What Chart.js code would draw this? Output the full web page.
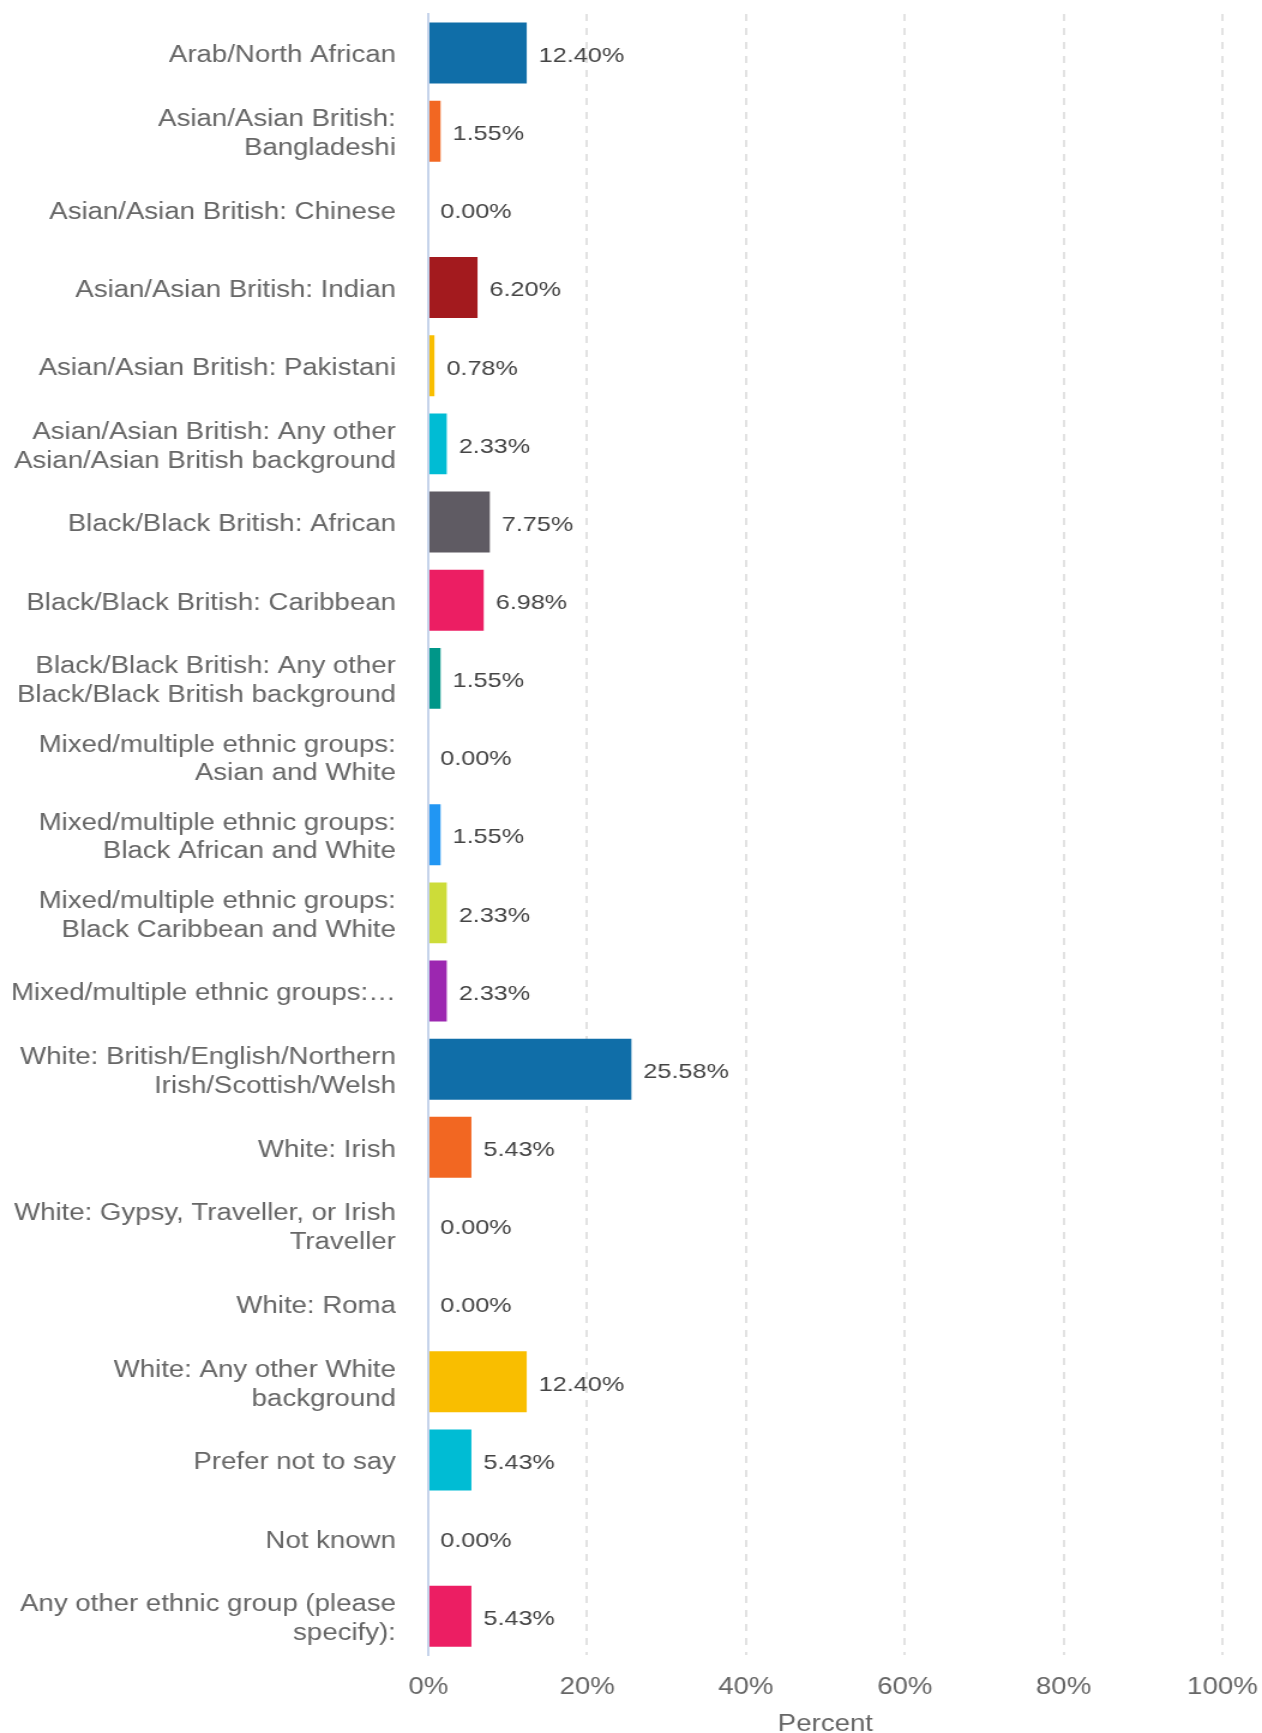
<!DOCTYPE html>
<html>
<head>
<meta charset="utf-8">
<script src="https://cdn.jsdelivr.net/npm/chart.js@4.4.1/dist/chart.umd.min.js"></script>
<style>
  html, body { margin: 0; padding: 0; background: #fff; }
  /* the picture is drawn a bit narrower and stretched out to full width */
  #chart { display: block; width: 1262px; height: 1733px; }
</style>
</head>
<body>
<canvas id="chart" width="1052" height="1733" style="width:1262px;height:1733px"></canvas>
<script>
'use strict';

const categories = [
  'Arab/North African',
  ['Asian/Asian British:', 'Bangladeshi'],
  'Asian/Asian British: Chinese',
  'Asian/Asian British: Indian',
  'Asian/Asian British: Pakistani',
  ['Asian/Asian British: Any other', 'Asian/Asian British background'],
  'Black/Black British: African',
  'Black/Black British: Caribbean',
  ['Black/Black British: Any other', 'Black/Black British background'],
  ['Mixed/multiple ethnic groups:', 'Asian and White'],
  ['Mixed/multiple ethnic groups:', 'Black African and White'],
  ['Mixed/multiple ethnic groups:', 'Black Caribbean and White'],
  'Mixed/multiple ethnic groups:\u2026',
  ['White: British/English/Northern', 'Irish/Scottish/Welsh'],
  'White: Irish',
  ['White: Gypsy, Traveller, or Irish', 'Traveller'],
  'White: Roma',
  ['White: Any other White', 'background'],
  'Prefer not to say',
  'Not known',
  ['Any other ethnic group (please', 'specify):']
];

const percentValues = [
  12.40, 1.55, 0.00, 6.20, 0.78, 2.33, 7.75, 6.98, 1.55, 0.00, 1.55,
  2.33, 2.33, 25.58, 5.43, 0.00, 0.00, 12.40, 5.43, 0.00, 5.43
];

const palette = [
  '#106ea8', '#f26722', '#4caf50', '#a31a1e', '#f9be00', '#00bcd4', '#5f5b63',
  '#ec1e63', '#009688', '#795548', '#2196f3', '#cddc39', '#9c27b0'
];

const xTicks = [0, 20, 40, 60, 80, 100];

const barColors = percentValues.map((v, i) => palette[i % palette.length]);

const FONT = "'Liberation Sans', Arial, sans-serif";

// draws the "12.40%" style labels just past the end of each bar
const valueLabels = {
  id: 'valueLabels',
  afterDatasetsDraw(chart) {
    const ctx = chart.ctx;
    const meta = chart.getDatasetMeta(0);
    ctx.save();
    ctx.font = '21px ' + FONT;
    ctx.fillStyle = '#444444';
    ctx.textAlign = 'left';
    ctx.textBaseline = 'middle';
    meta.data.forEach((bar, i) => {
      ctx.fillText(percentValues[i].toFixed(2) + '%', bar.x + 10, bar.y + 3);
    });
    ctx.restore();
  }
};

new Chart(document.getElementById('chart'), {
  type: 'bar',
  data: {
    labels: categories,
    datasets: [{
      data: percentValues,
      backgroundColor: barColors,
      borderWidth: 0,
      categoryPercentage: 1,
      barPercentage: 0.78
    }]
  },
  plugins: [valueLabels],
  options: {
    indexAxis: 'y',
    responsive: false,
    animation: false,
    layout: { padding: { top: 14, right: 33, bottom: 0, left: 0 } },
    plugins: {
      legend: { display: false },
      tooltip: { enabled: false }
    },
    scales: {
      x: {
        type: 'linear',
        min: 0,
        max: 100,
        afterBuildTicks(axis) {
          axis.ticks = xTicks.map(v => ({ value: v }));
        },
        grid: {
          color: (c) => c.tick && c.tick.value === 0 ? 'rgba(0,0,0,0)' : '#e2e2e2',
          lineWidth: 2,
          drawTicks: false
        },
        border: { display: false, dash: [7, 7] },
        ticks: {
          color: '#666666',
          font: { family: FONT, size: 23 },
          padding: 18,
          callback: (v) => v + '%'
        },
        title: {
          display: true,
          text: 'Percent',
          color: '#666666',
          font: { family: FONT, size: 23, lineHeight: 1.0 },
          padding: { top: 8, bottom: -3 }
        },
        afterFit(axis) {
          axis.paddingLeft = 0;
          axis.paddingRight = 0;
          axis.height = axis.height - 14;
        }
      },
      y: {
        type: 'category',
        offset: true,
        grid: { display: false, drawTicks: false },
        border: { display: true, color: '#c5d3ea', width: 2 },
        ticks: {
          color: '#666666',
          font: { family: FONT, size: 23, lineHeight: 1.25 },
          padding: 27,
          labelOffset: 3,
          autoSkip: false
        },
        afterFit(axis) {
          axis.width = 357;
          axis.paddingTop = 0;
          axis.paddingBottom = 0;
        }
      }
    }
  }
});
</script>
</body>
</html>
